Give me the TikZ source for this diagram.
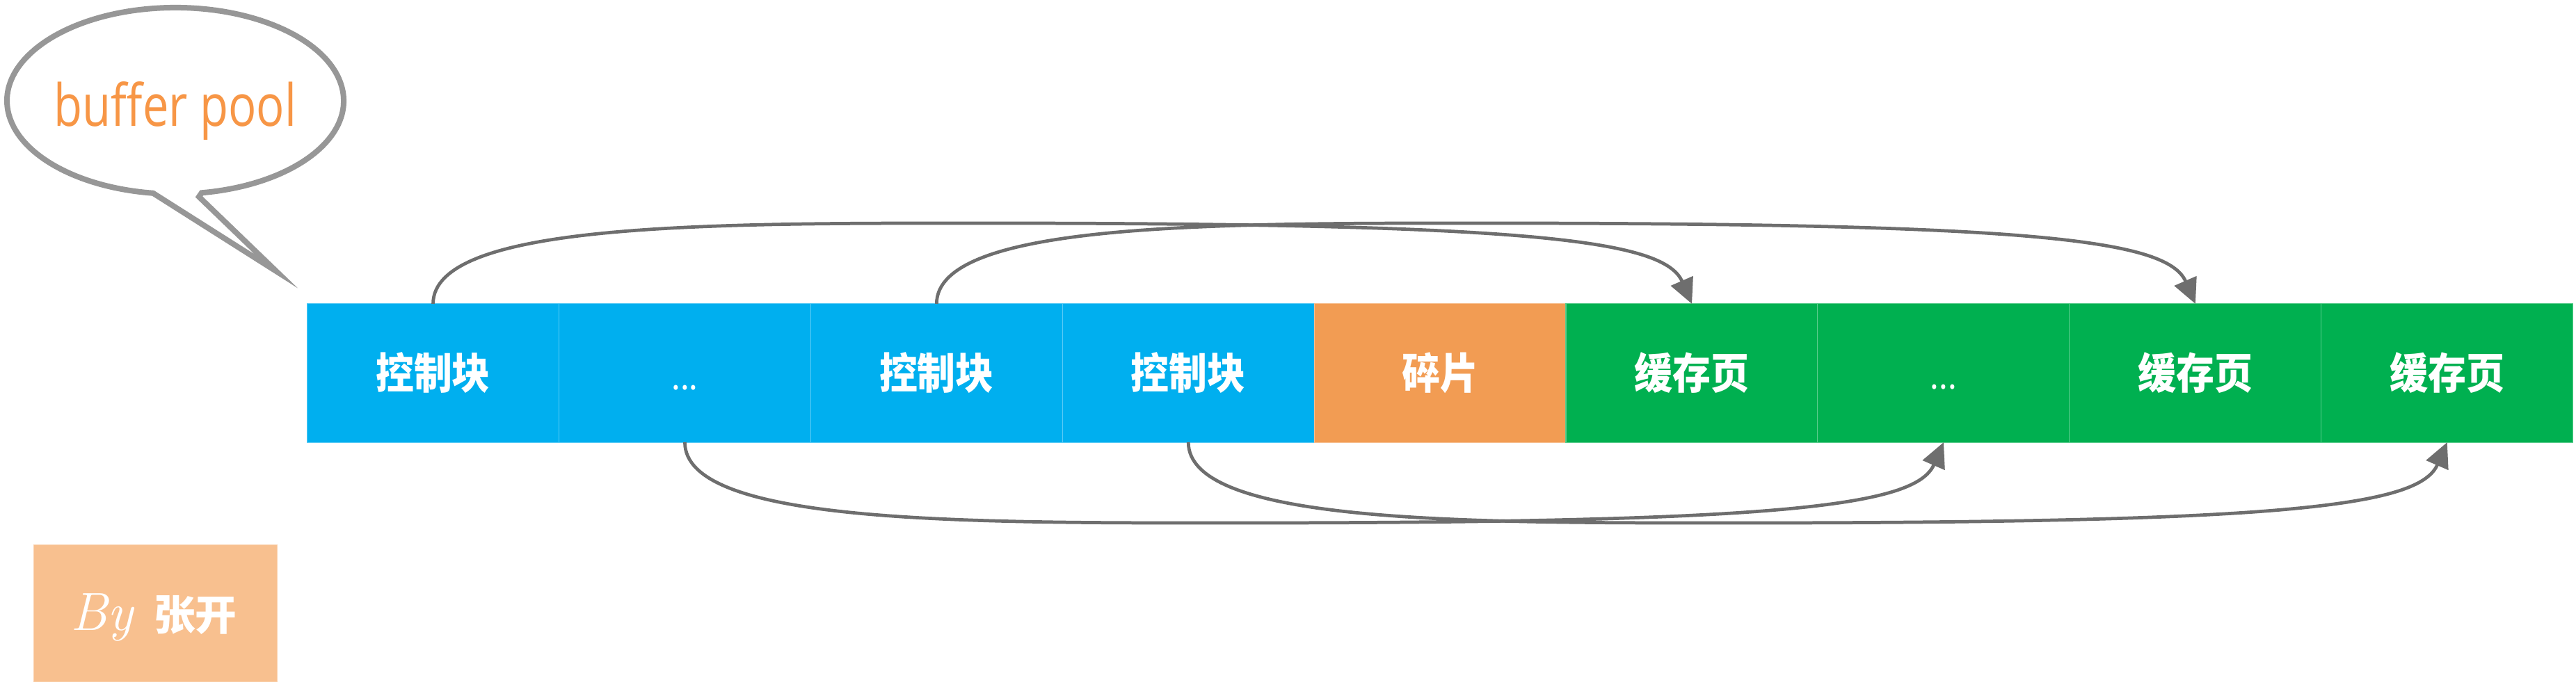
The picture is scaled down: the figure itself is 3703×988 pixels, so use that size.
\documentclass[tikz,border=0pt]{standalone}
\usepackage{fontspec}
\usetikzlibrary{arrows.meta,calc}
\newfontfamily\cjk{Noto Sans CJK SC}
\newfontfamily\latinf{Open Sans}
\definecolor{cblue}{HTML}{00AFEF}
\definecolor{corange}{HTML}{F29C53}
\definecolor{cgreen}{HTML}{00B050}
\definecolor{ctext}{HTML}{F79646}
\definecolor{csig}{HTML}{F8C08F}
\definecolor{cline}{HTML}{6E6E6E}
\definecolor{cbubble}{HTML}{979797}
\newcommand\boxlabel[1]{\scalebox{1}[1.12]{#1}}
\newcommand\toparc[2]{%
  \draw[conn] (#1.north) .. controls ($(#1.north)+(0,-116)$) and ($(#1.north)+(390,-116)$) .. ($(#1.north)+(779,-116)$)
    .. controls ($(#1.north)+(1579,-116)$) and ($(#2.north)+(-40,-92)$) .. (#2.north);}
\newcommand\botarc[2]{%
  \draw[conn] (#1.south) .. controls ($(#1.south)+(0,116)$) and ($(#1.south)+(390,116)$) .. ($(#1.south)+(779,116)$)
    .. controls ($(#1.south)+(1579,116)$) and ($(#2.south)+(-40,92)$) .. (#2.south);}
\begin{document}
\begin{tikzpicture}[x=0.01cm,y=-0.01cm,
  box/.style={rectangle, minimum width=3.619cm, minimum height=1.99cm, inner sep=0pt, outer sep=0pt,
    fill=#1, draw=#1!65!white, line width=0.3pt, text=white,
    font=\cjk\bfseries\fontsize{15.6pt}{18pt}\selectfont},
  conn/.style={draw=cline, line width=1.35pt, -{Triangle[length=0.36cm,width=0.34cm]}},
  bubble/.style={draw=cbubble, line width=0.08cm, fill=white, line join=miter},
]
\useasboundingbox (0,0) rectangle (3703,988);

% callout
\draw[bubble] (289.9,277.3) arc[start angle=81, end angle=-262.4, x radius=242, y radius=134]
  -- (397,390) -- (286,283) -- cycle;
\node[anchor=base, text=ctext, font=\latinf\fontsize{23.8pt}{28pt}\selectfont, inner sep=0pt] (title) at (252,182)
  {\scalebox{0.8}[1]{buffer pool}};

% boxes
\node[box=cblue]   (b1) at (622.55,536.5)  {\boxlabel{控制块}};
\node[box=cblue]   (b2) at (984.45,536.5)  {\boxlabel{\vphantom{控}\mdseries\fontsize{13pt}{16pt}\selectfont...}};
\node[box=cblue]   (b3) at (1346.35,536.5) {\boxlabel{控制块}};
\node[box=cblue]   (b4) at (1708.25,536.5) {\boxlabel{控制块}};
\node[box=corange] (b5) at (2070.15,536.5) {\boxlabel{碎片}};
\node[box=cgreen]  (b6) at (2432.05,536.5) {\boxlabel{缓存页}};
\node[box=cgreen]  (b7) at (2793.95,536.5) {\boxlabel{\vphantom{缓}\mdseries\fontsize{13pt}{16pt}\selectfont...}};
\node[box=cgreen]  (b8) at (3155.85,536.5) {\boxlabel{缓存页}};
\node[box=cgreen]  (b9) at (3517.75,536.5) {\boxlabel{缓存页}};

% connectors
\toparc{b1}{b6}
\toparc{b3}{b8}
\botarc{b2}{b7}
\botarc{b4}{b9}

% signature
\node[fill=csig, draw=csig!70!white, line width=0.3pt, minimum width=3.49cm, minimum height=1.96cm,
  inner sep=0pt, outer sep=0pt] (sig) at (223.5,882) {};
\node[text=white, inner sep=0pt] (sigtext) at (221,888)
  {{\fontsize{22pt}{24pt}\selectfont\itshape By}\hspace{0.3cm}{\cjk\bfseries\fontsize{17pt}{19pt}\selectfont 张开}};
\end{tikzpicture}
\end{document}
